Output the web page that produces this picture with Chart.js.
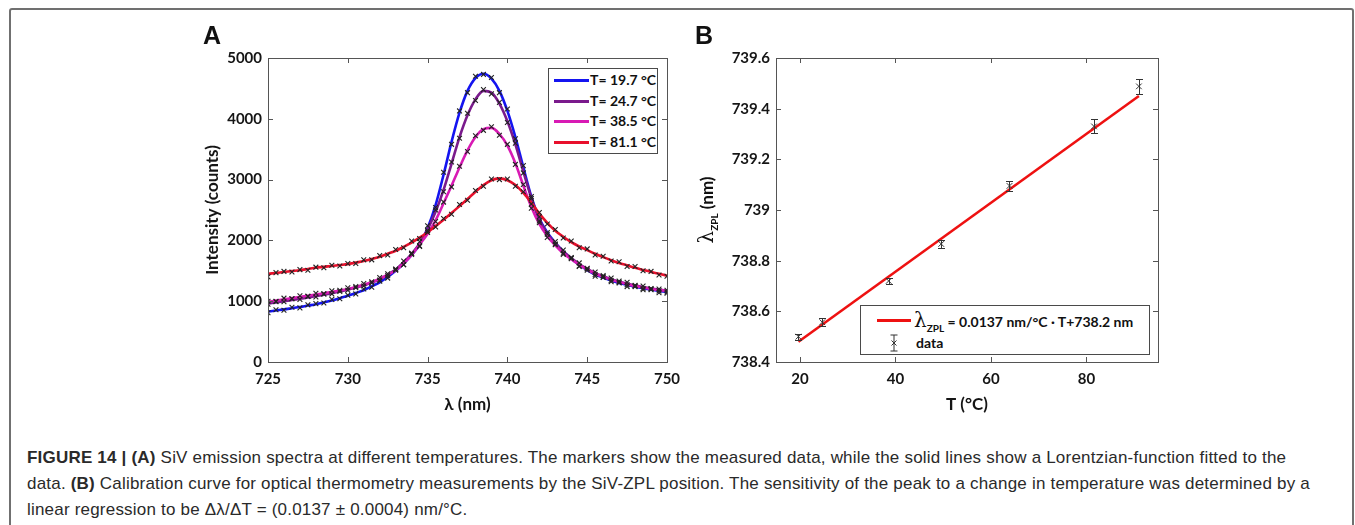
<!DOCTYPE html>
<html>
<head>
<meta charset="utf-8">
<script src="https://cdn.jsdelivr.net/npm/chart.js@4.4.1/dist/chart.umd.min.js"></script>
<style>
  body { margin: 0; width: 1355px; height: 525px; background: #fff; position: relative; overflow: hidden; }
  #frame { position: absolute; left: 9px; top: 8px; width: 1341px; height: 540px; border: 2px solid #707070; border-radius: 3px; }
  canvas { position: absolute; }
  .panel { position: absolute; font: bold 25px 'Liberation Sans', Arial, sans-serif; color: #111; line-height: 25px; }
  .legend { position: absolute; background: #fff; border: 1px solid #4a4a4a; font: bold 14px Lato, sans-serif; color: #111; }
  .legend .row { position: absolute; white-space: nowrap; height: 20px; line-height: 20px; }
  .legend .swatch { position: absolute; height: 3px; }
  #ytitleB { position: absolute; left: 706px; top: 210px; transform: translate(-50%, -50%) rotate(-90deg); white-space: nowrap; font: bold 17px Lato, sans-serif; color: #111; }
  .lam { font-family: 'DejaVu Serif', serif; font-weight: normal; font-size: 20px; }
  .sub { font-size: 10px; position: relative; top: 5px; }
  #caption { position: absolute; left: 27px; top: 445px; font: 17px 'Liberation Sans', Arial, sans-serif; letter-spacing: 0.2px; line-height: 26px; color: #2a2a2a; white-space: nowrap; }
</style>
</head>
<body>
<div id="frame"></div>

<canvas id="spectraCanvas" width="520" height="390" style="left:180px; top:30px; width:520px; height:390px;"></canvas>
<canvas id="zplCanvas" width="500" height="390" style="left:690px; top:30px; width:500px; height:390px;"></canvas>

<div class="panel" style="left:203px; top:23px;">A</div>
<div class="panel" style="left:695px; top:23px;">B</div>

<div class="legend" style="left:548px; top:68px; width:108px; height:84px;">
  <div class="row" style="left:0; top:1px;"><span class="swatch" style="left:5px; top:9px; width:35px; background:#1414f0;"></span><span style="position:absolute; left:41px;">T=&nbsp;19.7&nbsp;°C</span></div>
  <div class="row" style="left:0; top:21.5px;"><span class="swatch" style="left:5px; top:9px; width:35px; background:#7a1a8c;"></span><span style="position:absolute; left:41px;">T=&nbsp;24.7&nbsp;°C</span></div>
  <div class="row" style="left:0; top:42px;"><span class="swatch" style="left:5px; top:9px; width:35px; background:#d81ab4;"></span><span style="position:absolute; left:41px;">T=&nbsp;38.5&nbsp;°C</span></div>
  <div class="row" style="left:0; top:62.5px;"><span class="swatch" style="left:5px; top:9px; width:35px; background:#e8102c;"></span><span style="position:absolute; left:41px;">T=&nbsp;81.1&nbsp;°C</span></div>
</div>

<div class="legend" style="left:860px; top:305px; width:288px; height:48px;">
  <div class="row" style="left:0; top:2px; height:24px; line-height:24px;"><span class="swatch" style="left:16px; top:11px; width:34px; background:#ee1111;"></span><span style="position:absolute; left:53px;"><span class="lam">λ</span><span class="sub">ZPL</span> = 0.0137 nm/°C · T+738.2 nm</span></div>
  <div class="row" style="left:0; top:27px;"><svg style="position:absolute; left:28px; top:1px;" width="10" height="18"><path d="M5 1V17M1.5 1H8.5M1.5 17H8.5M2.5 6.5L7.5 11.5M7.5 6.5L2.5 11.5" stroke="#333" stroke-width="1" fill="none"/></svg><span style="position:absolute; left:55px;">data</span></div>
</div>

<div id="ytitleB"><span class="lam">λ</span><span class="sub">ZPL</span> (nm)</div>

<div id="caption"><b>FIGURE 14 | (A)</b> SiV emission spectra at different temperatures. The markers show the measured data, while the solid lines show a Lorentzian-function fitted to the<br>data. <b>(B)</b> Calibration curve for optical thermometry measurements by the SiV-ZPL position. The sensitivity of the peak to a change in temperature was determined by a<br>linear regression to be Δλ/ΔT = (0.0137 ± 0.0004) nm/°C.</div>

<script>
// panel A: wavelength grid (nm) shared by fitted curves and measured points
var wavelength = [725, 725.5, 726, 726.5, 727, 727.5, 728, 728.5, 729, 729.5, 730, 730.5, 731, 731.5, 732, 732.5, 733, 733.5, 734, 734.5,
  735, 735.5, 736, 736.5, 737, 737.5, 738, 738.5, 739, 739.5, 740, 740.5, 741, 741.5, 742, 742.5, 743, 743.5, 744, 744.5,
  745, 745.5, 746, 746.5, 747, 747.5, 748, 748.5, 749, 749.5, 750];

var fit197 = [830, 848, 865, 885, 905, 928, 950, 980, 1010, 1050, 1090, 1135, 1180, 1245, 1310, 1400, 1500, 1620, 1760, 1930,
  2200, 2580, 3080, 3620, 4100, 4460, 4670, 4740, 4660, 4460, 4130, 3700, 3200, 2720, 2360, 2130, 1960, 1820, 1700, 1600,
  1510, 1440, 1390, 1340, 1300, 1270, 1240, 1215, 1190, 1170, 1150];
var fit247 = [960, 980, 1000, 1020, 1040, 1060, 1080, 1105, 1130, 1160, 1190, 1225, 1260, 1305, 1360, 1435, 1520, 1640, 1780, 1950,
  2180, 2470, 2830, 3260, 3700, 4060, 4320, 4460, 4430, 4250, 3960, 3580, 3130, 2700, 2340, 2110, 1950, 1820, 1710, 1610,
  1530, 1460, 1410, 1360, 1320, 1290, 1260, 1235, 1210, 1190, 1170];
var fit385 = [990, 1010, 1030, 1050, 1070, 1090, 1110, 1130, 1150, 1175, 1200, 1235, 1270, 1315, 1370, 1435, 1510, 1620, 1760, 1930,
  2110, 2330, 2610, 2900, 3200, 3480, 3700, 3830, 3850, 3750, 3560, 3270, 2900, 2550, 2270, 2070, 1920, 1790, 1690, 1600,
  1520, 1455, 1400, 1355, 1315, 1280, 1250, 1225, 1200, 1185, 1170];
var fit811 = [1450, 1465, 1480, 1495, 1510, 1530, 1550, 1565, 1580, 1595, 1610, 1635, 1660, 1695, 1730, 1780, 1830, 1895, 1965, 2045,
  2135, 2235, 2340, 2450, 2565, 2680, 2800, 2910, 2990, 3020, 2990, 2910, 2780, 2620, 2440, 2290, 2160, 2060, 1970, 1900,
  1840, 1780, 1725, 1675, 1630, 1590, 1550, 1515, 1480, 1450, 1420];

var meas197 = [810, 860, 850, 900, 890, 940, 960, 970, 1030, 1040, 1100, 1120, 1200, 1230, 1330, 1380, 1520, 1600, 1790, 1900,
  2240, 2540, 3120, 3580, 4130, 4430, 4700, 4730, 4680, 4430, 4160, 3670, 3230, 2690, 2390, 2100, 1980, 1790, 1720, 1570,
  1530, 1410, 1400, 1320, 1310, 1240, 1250, 1190, 1200, 1140, 1130];
var meas247 = [950, 990, 990, 1040, 1030, 1080, 1070, 1120, 1120, 1180, 1180, 1240, 1250, 1320, 1350, 1450, 1510, 1660, 1770, 1980,
  2160, 2500, 2800, 3290, 3680, 4090, 4300, 4480, 4410, 4270, 3940, 3600, 3110, 2720, 2320, 2130, 1930, 1840, 1700, 1630,
  1510, 1480, 1390, 1380, 1300, 1310, 1240, 1250, 1190, 1200, 1150];
var meas385 = [1000, 1000, 1050, 1040, 1090, 1080, 1130, 1120, 1170, 1160, 1220, 1220, 1290, 1300, 1390, 1420, 1530, 1600, 1780, 1910,
  2130, 2310, 2630, 2880, 3220, 3460, 3720, 3810, 3870, 3730, 3580, 3250, 2920, 2530, 2290, 2050, 1940, 1770, 1710, 1580,
  1540, 1440, 1420, 1340, 1330, 1270, 1260, 1210, 1210, 1170, 1180];
var meas811 = [1400, 1470, 1490, 1480, 1520, 1510, 1560, 1550, 1590, 1580, 1620, 1620, 1680, 1680, 1750, 1760, 1850, 1880, 1990, 2030,
  2160, 2220, 2360, 2430, 2590, 2660, 2820, 2890, 3010, 3000, 3010, 2890, 2800, 2600, 2460, 2270, 2180, 2040, 1990, 1880,
  1860, 1760, 1740, 1660, 1650, 1570, 1570, 1500, 1490, 1430, 1410];

var spectraLabels = ['T= 19.7 °C', 'T= 24.7 °C', 'T= 38.5 °C', 'T= 81.1 °C'];
var spectraColors = ['#1414f0', '#7a1a8c', '#d81ab4', '#e8102c'];
var wavelengthTicks = [725, 730, 735, 740, 745, 750];
var intensityTicks = [0, 1000, 2000, 3000, 4000, 5000];

// panel B: ZPL position vs temperature
var zplTemp = [19.7, 24.7, 38.6, 49.6, 63.9, 81.6, 91.0];
var zplLambda = [738.50, 738.557, 738.72, 738.866, 739.095, 739.33, 739.488];
var zplErr = [0.012, 0.016, 0.013, 0.016, 0.02, 0.028, 0.029];
var fitTemp = [19.7, 91.0];
var fitLambda = [738.48, 739.45];
var tempTicks = [20, 40, 60, 80];
var zplTicks = [738.4, 738.6, 738.8, 739, 739.2, 739.4, 739.6];
var zplTickLabels = ['738.4', '738.6', '738.8', '739', '739.2', '739.4', '739.6'];

var tickFont = { family: 'Lato', size: 15, weight: 'bold' };
var titleFont = { family: 'Lato', size: 17, weight: 'bold' };


function toPoints(xArr, yArr) {
  var pts = [];
  for (var i = 0; i < xArr.length; i++) { pts.push({ x: xArr[i], y: yArr[i] }); }
  return pts;
}

function fixedTicks(values) {
  return function (scale) { scale.ticks = values.map(function (v) { return { value: v }; }); };
}

// MATLAB style box with inward ticks on all four sides
var boxPlugin = {
  id: 'boxFrame',
  afterDatasetsDraw: function (chart) {
    var ctx = chart.ctx, a = chart.chartArea, xs = chart.scales.x, ys = chart.scales.y;
    ctx.save();
    ctx.strokeStyle = '#555';
    ctx.lineWidth = 1;
    ctx.strokeRect(Math.round(a.left) + 0.5, Math.round(a.top) + 0.5, Math.round(a.right - a.left), Math.round(a.bottom - a.top));
    ctx.beginPath();
    xs.ticks.forEach(function (t) {
      var px = Math.round(xs.getPixelForValue(t.value)) + 0.5;
      ctx.moveTo(px, a.bottom); ctx.lineTo(px, a.bottom - 5);
      ctx.moveTo(px, a.top); ctx.lineTo(px, a.top + 5);
    });
    ys.ticks.forEach(function (t) {
      var py = Math.round(ys.getPixelForValue(t.value)) + 0.5;
      ctx.moveTo(a.left, py); ctx.lineTo(a.left + 5, py);
      ctx.moveTo(a.right, py); ctx.lineTo(a.right - 5, py);
    });
    ctx.stroke();
    ctx.restore();
  }
};

var errorBarPlugin = {
  id: 'errorBars',
  afterDatasetsDraw: function (chart) {
    var ctx = chart.ctx, xs = chart.scales.x, ys = chart.scales.y;
    ctx.save();
    ctx.strokeStyle = '#333';
    ctx.lineWidth = 1;
    ctx.beginPath();
    for (var i = 0; i < zplTemp.length; i++) {
      var px = Math.round(xs.getPixelForValue(zplTemp[i])) + 0.5;
      var top = Math.round(ys.getPixelForValue(zplLambda[i] + zplErr[i])) + 0.5;
      var bot = Math.round(ys.getPixelForValue(zplLambda[i] - zplErr[i])) + 0.5;
      ctx.moveTo(px, top); ctx.lineTo(px, bot);
      ctx.moveTo(px - 3.5, top); ctx.lineTo(px + 3.5, top);
      ctx.moveTo(px - 3.5, bot); ctx.lineTo(px + 3.5, bot);
    }
    ctx.stroke();
    ctx.restore();
  }
};

function axisOpts(min, max, ticks, fitSize, horizontal, titleText, titlePad, labels) {
  return {
    type: 'linear', min: min, max: max,
    afterBuildTicks: fixedTicks(ticks),
    afterFit: function (s) { if (horizontal) { s.height = fitSize; } else { s.width = fitSize; } },
    grid: { display: false, drawTicks: false },
    border: { display: false },
    ticks: {
      font: tickFont, color: '#151515', padding: horizontal ? 8 : 6, maxRotation: 0,
      callback: function (v, idx) { return labels ? labels[idx] : String(v); }
    },
    title: { display: !!titleText, text: titleText, font: titleFont, color: '#151515', padding: { top: titlePad, bottom: 0 } }
  };
}


(function () {
  'use strict'

  var fits = [fit197, fit247, fit385, fit811];
  var meas = [meas197, meas247, meas385, meas811];
  var datasets = [];

  for (var k = 0; k < 4; k++) {
    datasets.push({
      label: spectraLabels[k] + ' data',
      data: toPoints(wavelength, meas[k]),
      showLine: false,
      pointStyle: 'crossRot', pointRadius: 3.4, borderColor: '#222', borderWidth: 1.1,
      order: 0
    });
  }
  for (var j = 0; j < 4; j++) {
    datasets.push({
      label: spectraLabels[j],
      data: toPoints(wavelength, fits[j]),
      showLine: true, pointRadius: 0,
      borderColor: spectraColors[j], borderWidth: 2.6,
      cubicInterpolationMode: 'monotone',
      order: 4 - j
    });
  }

  new Chart(document.getElementById('spectraCanvas').getContext('2d'), {
    type: 'scatter',
    data: { datasets: datasets },
    options: {
      responsive: false, animation: false, devicePixelRatio: 1,
      layout: { padding: { left: 0, top: 28, right: 33, bottom: 5 } },
      plugins: { legend: { display: false }, tooltip: { enabled: false } },
      scales: {
        x: axisOpts(725, 750, wavelengthTicks, 53, true, 'λ (nm)', 5),
        y: axisOpts(0, 5000, intensityTicks, 88, false, 'Intensity (counts)', 22)
      }
    },
    plugins: [boxPlugin]
  });

  new Chart(document.getElementById('zplCanvas').getContext('2d'), {
    type: 'scatter',
    data: {
      datasets: [
        {
          label: 'data',
          data: toPoints(zplTemp, zplLambda),
          showLine: false,
          pointStyle: 'crossRot', pointRadius: 4, borderColor: '#333', borderWidth: 1,
          order: 0
        },
        {
          label: 'fit',
          data: toPoints(fitTemp, fitLambda),
          showLine: true, pointRadius: 0,
          borderColor: '#ee1111', borderWidth: 2.6,
          order: 1
        }
      ]
    },
    options: {
      responsive: false, animation: false, devicePixelRatio: 1,
      layout: { padding: { left: 0, top: 28, right: 32, bottom: 5 } },
      plugins: { legend: { display: false }, tooltip: { enabled: false } },
      scales: {
        x: axisOpts(15, 95, tempTicks, 53, true, 'T (°C)', 5),
        y: axisOpts(738.4, 739.6, zplTicks, 86, false, '', 0, zplTickLabels)
      }
    },
    plugins: [boxPlugin, errorBarPlugin]
  });

})()
</script>
</body>
</html>
